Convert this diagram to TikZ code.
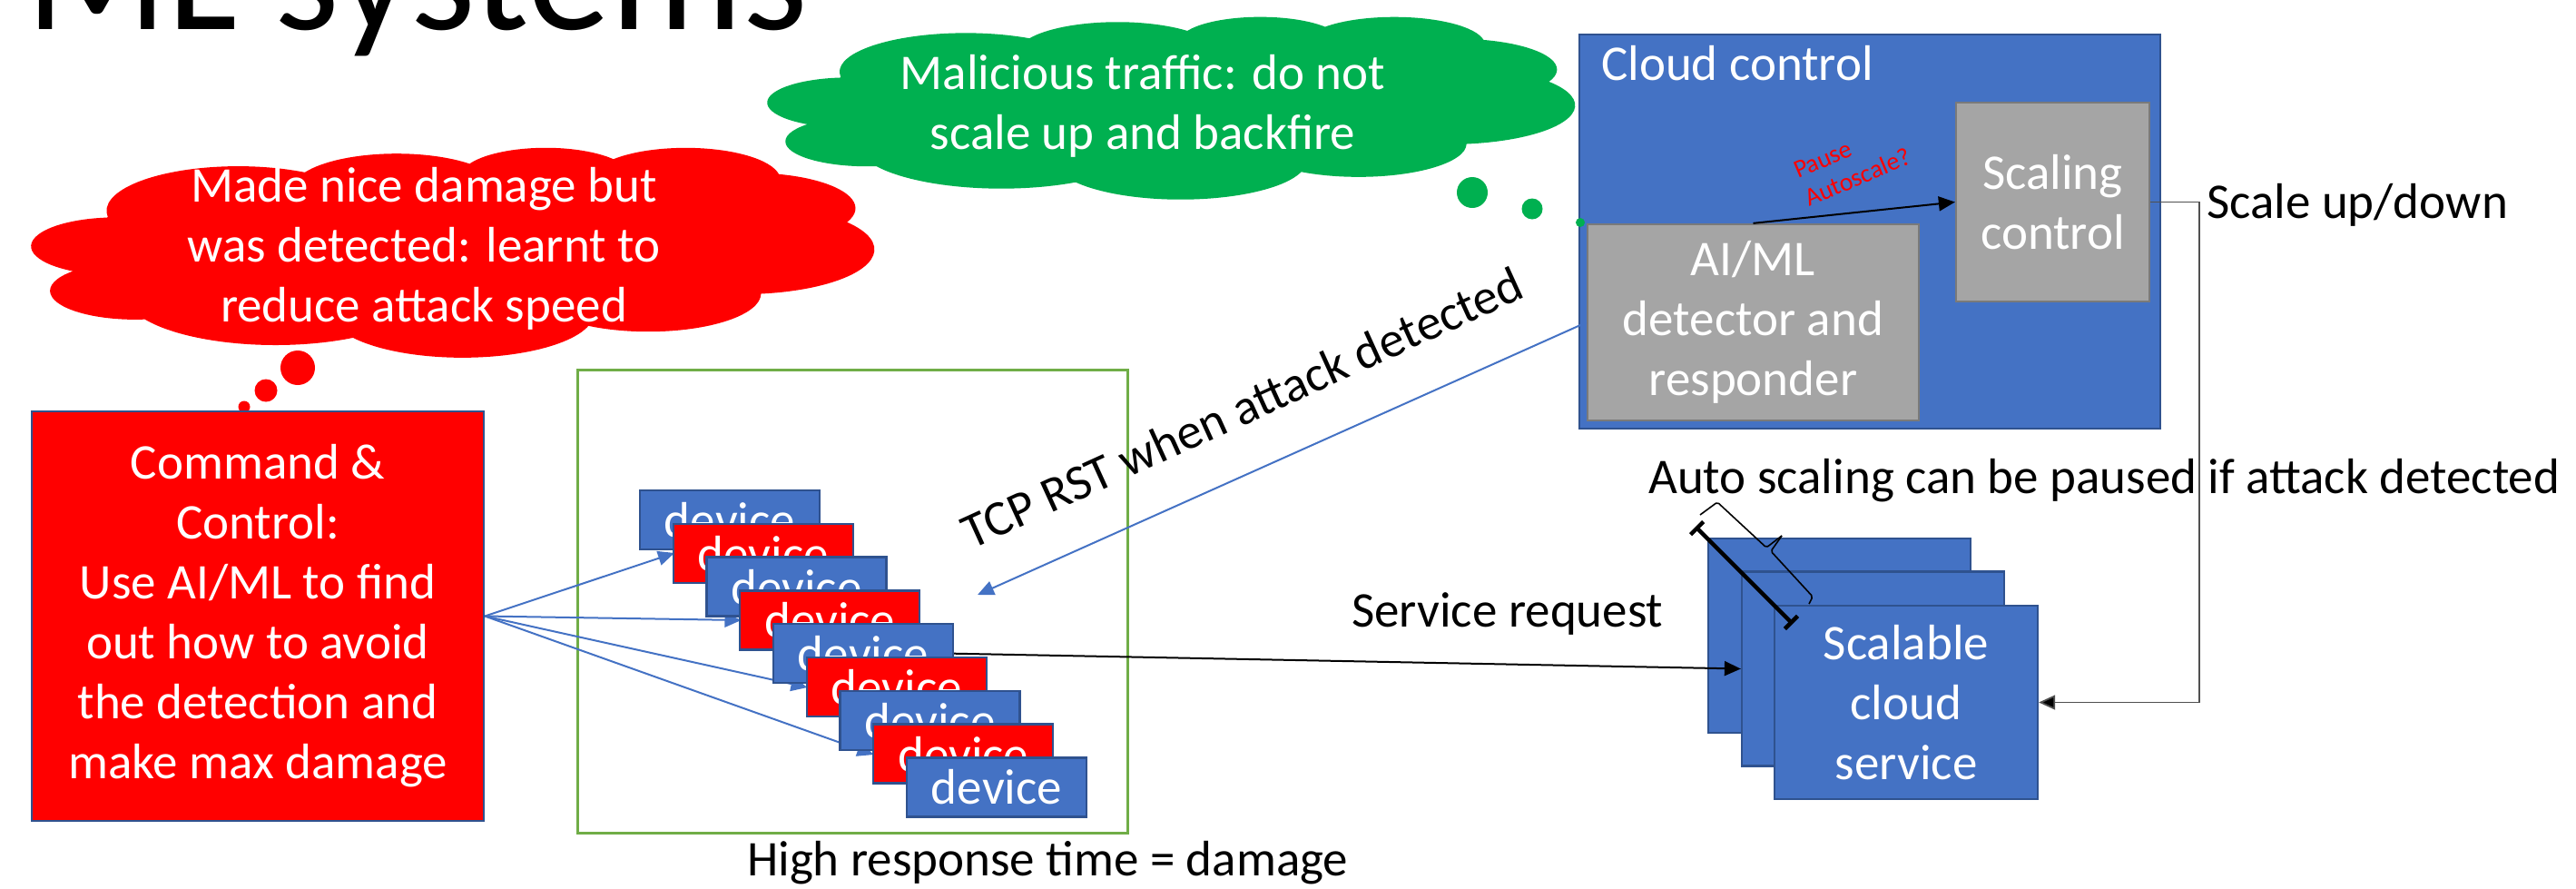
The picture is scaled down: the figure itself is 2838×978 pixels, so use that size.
\documentclass[tikz,border=0pt]{standalone}
\usepackage{fontspec}
\setmainfont{Carlito}
\usetikzlibrary{arrows.meta}
\definecolor{accblue}{HTML}{4472C4}
\definecolor{bordblue}{HTML}{2F528F}
\definecolor{pptred}{HTML}{FF0000}
\definecolor{pptgray}{HTML}{A5A5A5}
\definecolor{bordgray}{HTML}{7A7A7A}
\definecolor{frgreen}{HTML}{70AD47}
\definecolor{clgreen}{HTML}{00B050}
\definecolor{lineblue}{HTML}{4472C4}
\definecolor{conngray}{HTML}{505050}
\tikzset{
  carc/.style n args={4}{insert path={
    arc[start angle={(#3)+Mod(atan2((#1)*sin(#3),(#2)*cos(#3))-(#3)+180,360)-180},
        delta angle={(#4)+Mod(atan2((#1)*sin((#3)+(#4)),(#2)*cos((#3)+(#4)))-((#3)+(#4))+180,360)-Mod(atan2((#1)*sin(#3),(#2)*cos(#3))-(#3)+180,360)},
        x radius={(#1)/432/100*\cw}, y radius={(#2)/432/100*\ch}]
  }},
  cloudpath/.style={insert path={
    [carc={6753}{9190}{-190.4875}{123.7805}]
    [carc={5333}{7267}{-144.1024}{89.9452}]
    [carc={4365}{5945}{-145.8079}{99.7230}]
    [carc={4857}{6595}{-130.9861}{117.2417}]
    [carc={5333}{7273}{-78.7089}{109.0269}]
    [carc={6775}{9220}{-46.2673}{130.2690}]
    [carc={5785}{7867}{0.6250}{114.0333}]
    [carc={6752}{9215}{22.4516}{115.1726}]
    [carc={7720}{10543}{66.2426}{75.7110}]
    [carc={4360}{5918}{-274.9421}{146.7356}]
    [carc={4345}{5945}{-246.8285}{152.5189}]
    -- cycle}}
}
\begin{document}
\begin{tikzpicture}[x=1pt,y=-1pt,
  big/.style={font=\fontsize{55}{66}\selectfont},
  box/.style={draw=bordblue,line width=2.3,inner sep=0,text=white,align=center,big},
  bluebox/.style={box,fill=accblue},
  redbox/.style={box,fill=pptred},
  graybox/.style={draw=bordgray,fill=pptgray,line width=2.3,inner sep=0,text=white,align=center,big},
  txt/.style={inner sep=0,big},
  devb/.style={minimum width=198,minimum height=65},
  dot/.style={circle,inner sep=0},
  blueArrow/.style={draw=lineblue,line width=2,-{Triangle[length=18pt,width=16pt]}},
  blackArrow/.style={draw=black,line width=2,-{Triangle[length=18pt,width=16pt]}},
  conn/.style={draw=conngray,line width=1.8,-{Triangle[length=18pt,width=16pt,fill=black]}}
]
\useasboundingbox (0,0) rectangle (2838,978);

% title
\node[txt,anchor=base west,font=\fontsize{183}{200}\selectfont] (title) at (28,32) {ML systems};

% red thought cloud
\def\cw{928}\def\ch{231}
\fill[pptred] ({35+0.090278*928},{162+0.332639*231}) [cloudpath];
\node[txt,text=white,align=center] (rcloudtxt) at (467,274) {Made nice damage but\\was detected: learnt to\\reduce attack speed};
\node[dot,fill=pptred,minimum size=38] (rd1) at (328,405) {};
\node[dot,fill=pptred,minimum size=25] (rd2) at (293,430) {};
\node[dot,fill=pptred,minimum size=13] (rd3) at (269,448) {};

% green thought cloud
\def\cw{889}\def\ch{201}
\fill[clgreen] ({846+0.090278*889},{18+0.332639*201}) [cloudpath];
\node[txt,text=white,align=center] (gcloudtxt) at (1259,117) {Malicious traffic: do not\\scale up and backfire};
\node[dot,fill=clgreen,minimum size=34] (gd1) at (1622,212) {};
\node[dot,fill=clgreen,minimum size=23] (gd2) at (1688,230) {};

% cloud control
\node[bluebox,minimum width=640,minimum height=434] (ccbox) at (2060,255) {};
\node[txt,text=white,anchor=base west] (cctitle) at (1764,88) {Cloud control};
\node[graybox,minimum width=213,minimum height=219] (scal) at (2261.5,222.5) {Scaling\\control};
\node[graybox,minimum width=365,minimum height=216] (ai) at (1931.5,355) {AI/ML\\detector and\\responder};
\node[dot,fill=clgreen,minimum size=10] (gd3) at (1741,245) {};
\draw[blackArrow] (ai.north) -- (scal.west);
\node[inner sep=0,anchor=base west,rotate=23,text=pptred,font=\fontsize{28}{33}\selectfont] (pause1) at (1981,197) {Pause};
\node[inner sep=0,anchor=base west,rotate=23,text=pptred,font=\fontsize{28}{33}\selectfont] (pause2) at (1993,228) {Autoscale?};

% command and control
\node[redbox,minimum width=498,minimum height=451] (cnc) at (284,678.5) {Command \&\\Control:\\Use AI/ML to find\\out how to avoid\\the detection and\\make max damage};

% botnet frame
\node[draw=frgreen,line width=3,minimum width=606,minimum height=510,inner sep=0] (frame) at (939,662) {};

% fan-out arrows
\coordinate (d2w) at (743,609);
\coordinate (d4w) at (816.5,683);
\coordinate (d6w) at (889.5,757);
\coordinate (d8w) at (962.5,831);
\draw[blueArrow] (cnc.east) -- (d2w);
\draw[blueArrow] (cnc.east) -- (d4w);
\draw[blueArrow] (cnc.east) -- (d6w);
\draw[blueArrow] (cnc.east) -- (d8w);

% devices
\node[bluebox,devb] (d1) at (804,572.5) {device};
\node[redbox,devb] (d2) at (840.75,609.3) {device};
\node[bluebox,devb] (d3) at (877.5,646.1) {device};
\node[redbox,devb] (d4) at (914.25,682.9) {device};
\node[bluebox,devb] (d5) at (951,719.7) {device};
\node[redbox,devb] (d6) at (987.75,756.5) {device};
\node[bluebox,devb] (d7) at (1024.5,793.3) {device};
\node[redbox,devb] (d8) at (1061.25,830.1) {device};
\node[bluebox,devb] (d9) at (1098,866.9) {device};
\node[txt,anchor=base west] (hrt) at (823,964) {High response time = damage};

% TCP RST
\coordinate (tcpend) at (1077,655);
\draw[blueArrow] (ai.west) -- (tcpend);
\node[txt,anchor=base,rotate=24.5] (tcplbl) at (1376,466) {TCP RST when attack detected};

% scalable cloud service
\node[bluebox,minimum width=289,minimum height=214] (back) at (2026.5,700) {};
\node[bluebox,minimum width=289,minimum height=214] (mid) at (2063.5,736.5) {};
\node[bluebox,minimum width=290,minimum height=213] (front) at (2100,773.5) {Scalable\\cloud\\service};
\draw[blackArrow] (d5.east) -- (mid.west);
\node[txt,anchor=base west] (sreq) at (1489,690) {Service request};

% auto scaling texts and connector
\node[txt,anchor=base west] (autotxt) at (1816,543) {Auto scaling can be paused if attack detected};
\node[txt,anchor=base west] (sud) at (2431,240) {Scale up/down};
\draw[conn] (scal.east) -- ++(54,0) |- (front.east);

% thick bar line and brace
\coordinate (bA) at (1868,580);
\coordinate (bB) at (1975,687);
\draw[line width=4.5,{Bar[width=20pt]}-{Bar[width=20pt]}] (bA) -- (bB);
\draw[line width=1.6,line join=round,rounded corners=2pt] (1873,567) -- (1892,553) -- (1946,603) -- (1963,590);
\draw[line width=1.6,line join=round,rounded corners=2pt] (1963,590) -- (1951,607) -- (1997,657) -- (1993,665);
\end{tikzpicture}
\end{document}
